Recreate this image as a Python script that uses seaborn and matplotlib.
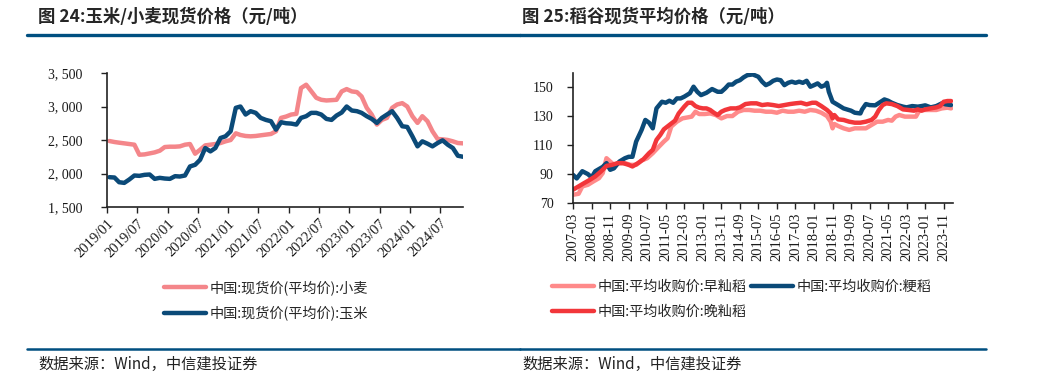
import pandas as pd
import numpy as np
import matplotlib.pyplot as plt
from matplotlib.lines import Line2D
import seaborn as sns

# =============================
# 1) DATA (read off the reference)
# =============================

# left panel: monthly spot price, yuan/ton
grain_months = [
    "2019-01", "2019-02", "2019-03", "2019-04", "2019-05", "2019-06", "2019-07", "2019-08",
    "2019-09", "2019-10", "2019-11", "2019-12", "2020-01", "2020-02", "2020-03", "2020-04",
    "2020-05", "2020-06", "2020-07", "2020-08", "2020-09", "2020-10", "2020-11", "2020-12",
    "2021-01", "2021-02", "2021-03", "2021-04", "2021-05", "2021-06", "2021-07", "2021-08",
    "2021-09", "2021-10", "2021-11", "2021-12", "2022-01", "2022-02", "2022-03", "2022-04",
    "2022-05", "2022-06", "2022-07", "2022-08", "2022-09", "2022-10", "2022-11", "2022-12",
    "2023-01", "2023-02", "2023-03", "2023-04", "2023-05", "2023-06", "2023-07", "2023-08",
    "2023-09", "2023-10", "2023-11", "2023-12", "2024-01", "2024-02", "2024-03", "2024-04",
    "2024-05", "2024-06", "2024-07", "2024-08", "2024-09", "2024-10", "2024-11",
]
wheat = [
    2485, 2470, 2460, 2450, 2440, 2430, 2280, 2285, 2300, 2315, 2340, 2395,
    2400, 2400, 2405, 2430, 2440, 2295, 2355, 2420, 2430, 2440, 2455, 2480,
    2500, 2600, 2575, 2560, 2555, 2560, 2570, 2580, 2590, 2630, 2830, 2850,
    2880, 2890, 3275, 3325, 3230, 3130, 3100, 3090, 3095, 3100, 3225, 3260,
    3225, 3215, 3150, 2980, 2880, 2730, 2800, 2830, 2980, 3030, 3050, 3000,
    2855, 2755, 2855, 2780, 2630, 2515, 2510, 2500, 2480, 2455, 2450,
]
corn = [
    1945, 1940, 1870, 1860, 1910, 1970, 1965, 1980, 1985, 1920, 1935, 1925,
    1920, 1960, 1955, 1970, 2105, 2130, 2205, 2380, 2330, 2380, 2530, 2555,
    2630, 2980, 3000, 2880, 2930, 2905, 2830, 2800, 2780, 2655, 2765, 2750,
    2745, 2730, 2830, 2855, 2905, 2905, 2880, 2815, 2800, 2865, 2910, 3000,
    2940, 2930, 2905, 2855, 2815, 2755, 2830, 2880, 2930, 2830, 2705, 2695,
    2555, 2405, 2480, 2445, 2405, 2455, 2495, 2430, 2380, 2265, 2250,
]
grain_ticks = ["2019/01", "2019/07", "2020/01", "2020/07", "2021/01", "2021/07",
               "2022/01", "2022/07", "2023/01", "2023/07", "2024/01", "2024/07"]

# right panel: average purchase price of rice
early_months = [
    "2007-03", "2007-06", "2007-08", "2007-11", "2008-02", "2008-05", "2008-07", "2008-09",
    "2008-11", "2009-01", "2009-04", "2009-07", "2009-10", "2010-01", "2010-04", "2010-07",
    "2010-10", "2011-01", "2011-04", "2011-06", "2011-08", "2011-11", "2012-02", "2012-05",
    "2012-07", "2012-09", "2012-11", "2013-02", "2013-05", "2013-08", "2013-11", "2014-02",
    "2014-05", "2014-08", "2014-11", "2015-02", "2015-05", "2015-08", "2015-11", "2016-02",
    "2016-05", "2016-08", "2016-11", "2017-02", "2017-05", "2017-08", "2017-11", "2018-02",
    "2018-05", "2018-08", "2018-10", "2018-11", "2018-12", "2019-02", "2019-05", "2019-08",
    "2019-11", "2020-02", "2020-05", "2020-08", "2020-11", "2021-02", "2021-05", "2021-07",
    "2021-09", "2021-11", "2022-02", "2022-05", "2022-08", "2022-10", "2023-01", "2023-04",
    "2023-07", "2023-10", "2024-01", "2024-03",
]
early_indica = [
    75.7, 76.4, 81.5, 82.6, 85.0, 87.2, 90.7, 101.0,
    98.7, 96.4, 97.6, 97.6, 96.4, 96.4, 99.4, 101.0,
    104.5, 108.6, 112.5, 114.8, 122.9, 126.3, 128.6, 129.3,
    129.8, 133.2, 131.6, 131.6, 132.0, 130.9, 128.6, 130.2,
    130.2, 133.2, 134.4, 134.4, 133.9, 133.9, 133.2, 133.2,
    132.5, 133.9, 133.2, 133.2, 133.9, 133.2, 134.4, 133.9,
    132.5, 130.2, 126.3, 121.7, 124.7, 123.3, 121.7, 120.6,
    121.7, 121.7, 121.7, 124.0, 126.3, 126.3, 127.5, 127.0,
    129.8, 130.9, 129.8, 129.8, 129.8, 134.4, 134.4, 134.4,
    134.4, 135.5, 136.0, 135.5,
]

jap_months = [
    "2007-03", "2007-05", "2007-08", "2007-11", "2008-01", "2008-03", "2008-07", "2008-09",
    "2008-11", "2009-01", "2009-04", "2009-07", "2009-09", "2009-11", "2010-01", "2010-04",
    "2010-06", "2010-08", "2010-10", "2010-12", "2011-03", "2011-05", "2011-07", "2011-09",
    "2011-11", "2012-01", "2012-03", "2012-06", "2012-08", "2012-10", "2012-12", "2013-03",
    "2013-06", "2013-09", "2013-11", "2014-01", "2014-03", "2014-05", "2014-07", "2014-09",
    "2014-11", "2015-01", "2015-04", "2015-07", "2015-09", "2015-11", "2016-01", "2016-03",
    "2016-05", "2016-07", "2016-09", "2016-11", "2017-01", "2017-03", "2017-05", "2017-07",
    "2017-09", "2017-11", "2018-01", "2018-03", "2018-05", "2018-07", "2018-08", "2018-09",
    "2018-11", "2019-02", "2019-05", "2019-09", "2019-11", "2020-02", "2020-03", "2020-05",
    "2020-07", "2020-10", "2021-01", "2021-03", "2021-05", "2021-07", "2021-10", "2022-01",
    "2022-03", "2022-06", "2022-09", "2022-11", "2023-01", "2023-04", "2023-07", "2023-10",
    "2023-12", "2024-03",
]
japonica = [
    89.5, 87.0, 92.0, 90.0, 87.7, 92.0, 95.0, 97.6,
    93.0, 94.0, 98.7, 101.0, 102.0, 102.0, 112.5, 120.6,
    127.5, 125.6, 121.7, 135.5, 140.1, 139.4, 140.8, 139.4,
    142.4, 142.4, 143.6, 146.0, 150.5, 147.0, 144.7, 146.3,
    148.9, 147.0, 147.0, 149.3, 152.0, 152.0, 154.0, 155.0,
    157.0, 158.5, 159.0, 157.4, 154.0, 151.6, 152.8, 154.6,
    155.5, 155.0, 151.6, 153.2, 154.0, 153.2, 154.0, 153.2,
    154.6, 150.5, 151.6, 152.8, 150.5, 151.6, 153.2, 147.0,
    140.1, 137.8, 135.5, 133.9, 132.5, 132.0, 134.8, 138.5,
    137.8, 137.6, 140.1, 141.7, 140.8, 139.4, 137.8, 136.7,
    136.2, 137.1, 136.7, 137.1, 137.6, 136.2, 137.1, 139.0,
    138.3, 137.8,
]

late_months = [
    "2007-03", "2007-06", "2007-09", "2007-12", "2008-03", "2008-06", "2008-09", "2008-12",
    "2009-03", "2009-06", "2009-09", "2009-11", "2010-02", "2010-05", "2010-08", "2010-10",
    "2010-12", "2011-02", "2011-04", "2011-07", "2011-10", "2011-12", "2012-03", "2012-05",
    "2012-07", "2012-09", "2012-11", "2013-01", "2013-03", "2013-05", "2013-07", "2013-09",
    "2013-11", "2014-01", "2014-04", "2014-07", "2014-09", "2014-12", "2015-03", "2015-06",
    "2015-09", "2015-12", "2016-03", "2016-06", "2016-09", "2016-12", "2017-03", "2017-06",
    "2017-09", "2017-12", "2018-02", "2018-05", "2018-08", "2018-10", "2018-11", "2018-12",
    "2019-02", "2019-05", "2019-08", "2019-11", "2020-02", "2020-05", "2020-08", "2020-10",
    "2020-12", "2021-02", "2021-04", "2021-07", "2021-10", "2022-01", "2022-04", "2022-07",
    "2022-09", "2022-11", "2023-01", "2023-04", "2023-07", "2023-09", "2023-11", "2024-01",
    "2024-03",
]
late_indica = [
    79.2, 81.5, 83.8, 86.0, 88.4, 91.8, 95.7, 96.4,
    97.6, 97.6, 96.4, 95.3, 97.6, 100.3, 104.5, 106.8,
    113.7, 117.1, 121.0, 124.0, 127.0, 132.0, 136.7, 139.4,
    139.4, 137.1, 136.0, 135.5, 135.5, 134.4, 132.5, 130.9,
    133.2, 134.4, 135.5, 135.5, 136.2, 138.5, 139.0, 139.0,
    137.8, 138.3, 137.8, 137.1, 137.8, 138.5, 139.0, 139.4,
    138.3, 139.4, 139.4, 137.1, 134.4, 132.0, 128.6, 130.9,
    127.9, 127.5, 126.3, 125.6, 125.6, 126.3, 127.5, 129.8,
    134.4, 137.8, 139.0, 138.5, 137.1, 134.8, 134.4, 133.9,
    134.8, 133.9, 134.8, 135.5, 136.2, 137.1, 140.1, 140.6,
    140.6,
]
rice_ticks = ["2007-03", "2008-01", "2008-11", "2009-09", "2010-07", "2011-05", "2012-03",
              "2013-01", "2013-11", "2014-09", "2015-07", "2016-05", "2017-03", "2018-01",
              "2018-11", "2019-09", "2020-07", "2021-05", "2022-03", "2023-01", "2023-11"]

# =============================
# 2) STYLE
# =============================

sns.set_theme(style="ticks")
plt.rcParams['font.family'] = ['Noto Sans CJK SC', 'DejaVu Sans']

PINK = "#F4868A"
LIGHT = "#FF8A8A"
BLUE = "#0B4A78"
RED = "#F2363A"
NAVY = "#004F80"
YTICK_FONT = dict(family="Liberation Serif", size=10, color="#1a1a1a")
XTICK_FONT = dict(family="Liberation Serif", size=10.5, color="#1a1a1a")
LEG_FONT = dict(family=['Noto Sans CJK SC', 'DejaVu Sans'], size=10.2)

fig = plt.figure(figsize=(10.47, 3.9), dpi=100)

# =============================
# 3) LEFT PANEL: CORN / WHEAT
# =============================

grain = pd.DataFrame({"date": pd.to_datetime(grain_months) + pd.Timedelta(days=14),
                      "wheat": wheat, "corn": corn})

ax1 = fig.add_axes([107 / 1047, 1 - 207 / 390, 356 / 1047, 134 / 390])
sns.lineplot(data=grain, x="date", y="wheat", ax=ax1, color=PINK, lw=3.2, label="中国:现货价(平均价):小麦")
sns.lineplot(data=grain, x="date", y="corn", ax=ax1, color=BLUE, lw=3.2, label="中国:现货价(平均价):玉米")
ax1.set_ylim(1500, 3500)
ax1.set_yticks([1500, 2000, 2500, 3000, 3500])
ax1.set_yticklabels([f"{v:,}".replace(",", ", ") for v in [1500, 2000, 2500, 3000, 3500]], **YTICK_FONT)
ax1.set_xlim(pd.Timestamp("2019-01-01"), grain["date"].iloc[-1])
gt = pd.to_datetime([t.replace("/", "-") for t in grain_ticks])
ax1.set_xticks(gt)
ax1.set_xticklabels(grain_ticks, rotation=45, ha="right", rotation_mode="anchor", **XTICK_FONT)
ax1.set_xlabel("")
ax1.set_ylabel("")
ax1.tick_params(axis="both", direction="out", length=4, width=1, color="#222222", pad=3)
ax1.tick_params(axis="y", pad=14)
for s in ["top", "right"]:
    ax1.spines[s].set_visible(False)
for s in ["left", "bottom"]:
    ax1.spines[s].set_color("#222222")
    ax1.spines[s].set_linewidth(1.2)
ax1.get_legend().remove()
ax1.legend(loc="upper left", bbox_to_anchor=(164 / 1047, 1 - 280 / 390), bbox_transform=fig.transFigure,
           frameon=False, prop=LEG_FONT, handlelength=2.95, handletextpad=0.25, labelspacing=0.75,
           borderpad=0, borderaxespad=0)

# =============================
# 4) RIGHT PANEL: RICE
# =============================

ax2 = fig.add_axes([573 / 1047, 1 - 203 / 390, 380 / 1047, 130 / 390])
early_df = pd.DataFrame({"date": pd.to_datetime(early_months), "v": early_indica})
jap_df = pd.DataFrame({"date": pd.to_datetime(jap_months), "v": japonica})
late_df = pd.DataFrame({"date": pd.to_datetime(late_months), "v": late_indica})
sns.lineplot(data=early_df, x="date", y="v", ax=ax2, color=LIGHT, lw=3.2)
sns.lineplot(data=jap_df, x="date", y="v", ax=ax2, color=BLUE, lw=3.2)
sns.lineplot(data=late_df, x="date", y="v", ax=ax2, color=RED, lw=3.2)
ax2.set_ylim(70, 160)
ax2.set_yticks([70, 90, 110, 130, 150])
ax2.set_yticklabels(["70", "90", "110", "130", "150"], **YTICK_FONT)
ax2.set_xlim(pd.Timestamp("2007-03-01"), pd.Timestamp("2024-04-01"))
rt = pd.to_datetime(rice_ticks)
ax2.set_xticks(rt)
ax2.set_xticklabels(rice_ticks, rotation=90, ha="center", **XTICK_FONT)
ax2.set_xlabel("")
ax2.set_ylabel("")
ax2.tick_params(axis="both", direction="out", length=4, width=1, color="#222222", pad=3)
ax2.tick_params(axis="y", pad=10)
for s in ["top", "right"]:
    ax2.spines[s].set_visible(False)
for s in ["left", "bottom"]:
    ax2.spines[s].set_color("#222222")
    ax2.spines[s].set_linewidth(1.2)
rice_handles = [Line2D([], [], color=LIGHT, lw=3.2), Line2D([], [], color=RED, lw=3.2),
                Line2D([], [], color=BLUE, lw=3.2)]
rice_labels = ["中国:平均收购价:早籼稻", "中国:平均收购价:晚籼稻", "中国:平均收购价:粳稻"]
ax2.legend(rice_handles, rice_labels, loc="upper left", ncol=2,
           bbox_to_anchor=(552 / 1047, 1 - 280 / 390), bbox_transform=fig.transFigure,
           frameon=False, prop=LEG_FONT, handlelength=2.95, handletextpad=0.25, labelspacing=0.75,
           columnspacing=0.35, borderpad=0, borderaxespad=0)

# =============================
# 5) TITLES, RULES, SOURCES
# =============================

fig.text(38 / 1047, 1 - 17 / 390, "图 24:玉米/小麦现货价格（元/吨）", fontsize=12.5, fontweight="bold",
         va="center", ha="left")
fig.text(522 / 1047, 1 - 17 / 390, "图 25:稻谷现货平均价格（元/吨）", fontsize=12.5, fontweight="bold",
         va="center", ha="left")
fig.add_artist(Line2D([27 / 1047, 520 / 1047], [1 - 35 / 390] * 2, color=NAVY, lw=2.4))
fig.add_artist(Line2D([520 / 1047, 986 / 1047], [1 - 35 / 390] * 2, color=NAVY, lw=2.4))
fig.add_artist(Line2D([27 / 1047, 520 / 1047], [1 - 349 / 390] * 2, color=NAVY, lw=1.8))
fig.add_artist(Line2D([520 / 1047, 986 / 1047], [1 - 349 / 390] * 2, color=NAVY, lw=1.8))
fig.text(38 / 1047, 1 - 364 / 390, "数据来源：Wind，中信建投证券", fontsize=11, style="italic",
         va="center", ha="left", color="#222222")
fig.text(522 / 1047, 1 - 364 / 390, "数据来源：Wind，中信建投证券", fontsize=11, style="italic",
         va="center", ha="left", color="#222222")

fig.savefig("out.png", dpi=100, facecolor="white")
plt.close()
